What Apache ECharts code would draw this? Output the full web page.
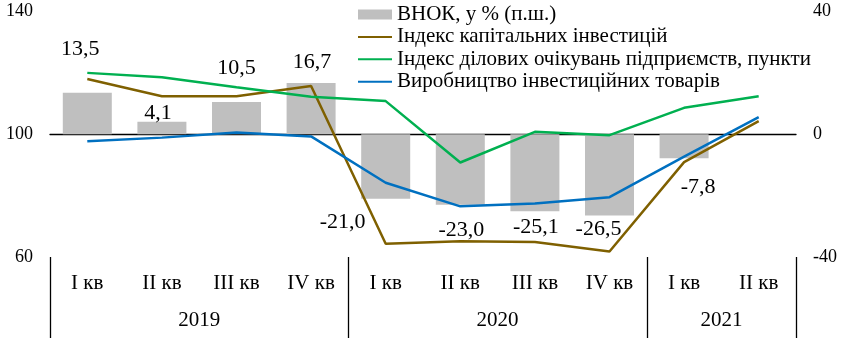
<!DOCTYPE html>
<html><head><meta charset="utf-8">
<script src="https://cdn.jsdelivr.net/npm/echarts@6/dist/echarts.min.js"></script>
<style>html,body{margin:0;padding:0;background:#fff}#c{width:850px;height:338px}</style>
</head><body><div id="c"></div>
<script>
const quarters = ['I кв','II кв','III кв','IV кв','I кв','II кв','III кв','IV кв','I кв','II кв'];
const years = ['2019','2020','2021'];
const quartersPerYear = [4,4,2];
const gdp = [13.5, 4.1, 10.5, 16.7, -21.0, -23.0, -25.1, -26.5, -7.8, null];
const capInv = [118.0, 112.4, 112.4, 115.7, 64.3, 65.1, 64.9, 61.8, 90.9, 104.3];
const bizExp = [120.0, 118.6, 115.3, 112.2, 110.8, 90.8, 100.8, 99.7, 108.6, 112.4];
const invGoods = [97.7, 98.9, 100.6, 99.3, 84.2, 76.5, 77.4, 79.5, 92.7, 105.6];
const names = ['ВНОК, у % (п.ш.)','Індекс капітальних інвестицій','Індекс ділових очікувань підприємств, пункти','Виробництво інвестиційних товарів'];
// label nudges (styling only)
const labelNudge = [[-7,-28],[-4,8],[0,-18],[1,-5],[-43,8],[1,9],[1,0],[-11,-2],[14,13],[0,0]];

const FONT = '"Liberation Serif", "Times New Roman", serif';
let cum = 0; const bounds = [0]; const centers = [];
quartersPerYear.forEach(n => { centers.push(cum + n/2); cum += n; bounds.push(cum); });

const chart = echarts.init(document.getElementById('c'));
chart.setOption({
  animation: false,
  textStyle: {fontFamily: FONT, color: '#000'},
  grid: {left: 50, right: 54, top: 11.5, bottom: 81},
  legend: {
    orient: 'vertical', left: 352, top: -1, itemGap: 1.4, itemWidth: 34, itemHeight: 10,
    textStyle: {fontFamily: FONT, fontSize: 21, color: '#000'},
    data: [
      {name: names[0], icon: 'rect'},
      {name: names[1], itemStyle: {opacity: 0}},
      {name: names[2], itemStyle: {opacity: 0}},
      {name: names[3], itemStyle: {opacity: 0}}
    ]
  },
  xAxis: [{
    type: 'category', data: quarters, boundaryGap: true,
    axisLine: {lineStyle: {color: '#000', width: 1.3}},
    axisTick: {show: false},
    axisLabel: {fontFamily: FONT, fontSize: 21, color: '#000', margin: 16, interval: 0}
  }, {
    type: 'value', min: 0, max: cum, position: 'bottom',
    axisLine: {show: false}, splitLine: {show: false},
    axisTick: {show: true, customValues: bounds, length: 81, lineStyle: {color: '#000', width: 1.3}},
    axisLabel: {customValues: centers, fontFamily: FONT, fontSize: 21, color: '#000', margin: 53,
      formatter: v => { const i = centers.indexOf(v); return i >= 0 ? years[i] : ''; }}
  }],
  yAxis: [{
    type: 'value', min: 60, max: 140, interval: 40,
    axisLine: {show: false}, axisTick: {show: false}, splitLine: {show: false},
    axisLabel: {fontFamily: FONT, fontSize: 18, color: '#000', margin: 17}
  }, {
    type: 'value', min: -40, max: 40, interval: 40,
    axisLine: {show: false}, axisTick: {show: false}, splitLine: {show: false},
    axisLabel: {fontFamily: FONT, fontSize: 18, color: '#000', margin: 17}
  }],
  series: [{
    name: names[0], type: 'bar', yAxisIndex: 1, barWidth: 49,
    itemStyle: {color: '#bfbfbf'},
    data: gdp.map((v, i) => ({
      value: v,
      label: {show: v !== null, position: v >= 0 ? 'top' : 'bottom', offset: labelNudge[i]}
    })),
    label: {fontFamily: FONT, fontSize: 22, color: '#000',
      formatter: p => p.value == null ? '' : p.value.toFixed(1).replace('.', ',')}
  }, {
    name: names[1], type: 'line', data: capInv, symbol: 'none', z: 3,
    lineStyle: {color: '#7f6000', width: 2.5}, itemStyle: {color: '#7f6000'}
  }, {
    name: names[2], type: 'line', data: bizExp, symbol: 'none', z: 3,
    lineStyle: {color: '#00b050', width: 2.5}, itemStyle: {color: '#00b050'}
  }, {
    name: names[3], type: 'line', data: invGoods, symbol: 'none', z: 3,
    lineStyle: {color: '#0070c0', width: 2.5}, itemStyle: {color: '#0070c0'}
  }]
});
</script></body></html>
